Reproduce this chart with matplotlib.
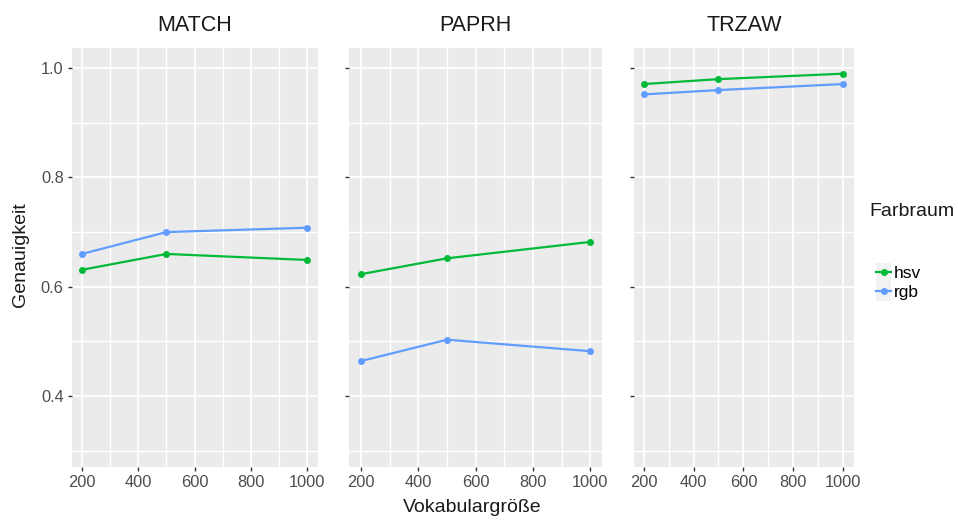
import matplotlib
matplotlib.use("Agg")
import matplotlib.pyplot as plt
from matplotlib.lines import Line2D
from matplotlib.patches import Rectangle
from matplotlib.legend_handler import HandlerLine2D

plt.rcParams['font.family'] = ['Liberation Sans', 'DejaVu Sans']

panels = ["MATCH", "PAPRH", "TRZAW"]
vocab = [200, 500, 1000]
hsv = {
    "MATCH": [0.631, 0.660, 0.649],
    "PAPRH": [0.623, 0.652, 0.682],
    "TRZAW": [0.971, 0.980, 0.990],
}
rgb = {
    "MATCH": [0.660, 0.700, 0.708],
    "PAPRH": [0.464, 0.503, 0.482],
    "TRZAW": [0.952, 0.960, 0.971],
}
series_names = ["hsv", "rgb"]
colors = {"hsv": "#00BA38", "rgb": "#619CFF"}
xticks = [200, 400, 600, 800, 1000]
yticks = [0.4, 0.6, 0.8, 1.0]

W, H = 958, 523
fig = plt.figure(figsize=(W / 100, H / 100), dpi=100)

boxes = [(72, 318), (349, 602), (634, 854)]
xlims = [(164.5, 1039), (158, 1041), (161, 1044)]
top, bottom = 48, 467
grey = "#4D4D4D"
for i, (name, (l, r)) in enumerate(zip(panels, boxes)):
    ax = fig.add_axes([l / W, 1 - bottom / H, (r - l) / W, (bottom - top) / H])
    ax.set_facecolor("#EBEBEB")
    for s in ax.spines.values():
        s.set_visible(False)
    ax.set_xlim(*xlims[i])
    ax.set_ylim(0.27, 1.037)
    ax.set_xticks(xticks)
    ax.set_xticks([300, 500, 700, 900], minor=True)
    ax.set_yticks(yticks)
    ax.set_yticks([0.3, 0.5, 0.7, 0.9], minor=True)
    ax.grid(True, which="major", color="white", lw=1.3)
    ax.grid(True, which="minor", color="white", lw=1.0)
    ax.set_axisbelow(True)
    ax.tick_params(which="minor", length=0)
    ax.tick_params(which="major", length=3, color="#333333", width=1, pad=3,
                   labelsize=11.8, labelcolor=grey)
    ax.set_xticklabels([str(t) for t in xticks])
    if i == 0:
        ax.set_yticklabels([f"{t:.1f}" for t in yticks])
    else:
        ax.set_yticklabels([])
    for sname, data in (("hsv", hsv), ("rgb", rgb)):
        ax.plot(vocab, data[name], color=colors[sname], lw=1.6,
                marker="o", ms=4, solid_capstyle="butt", zorder=3)
    ax.set_title(name, fontsize=15.5, color="#1A1A1A", pad=12)

fig.text(21 / W, 1 - 255 / H, "Genauigkeit", rotation=90, ha="center",
         va="center", fontsize=14, color="#1A1A1A")
fig.text(472 / W, 1 - 507 / H, "Vokabulargröße", ha="center", va="center",
         fontsize=14, color="#1A1A1A")

fig.text(869 / W, 1 - 211 / H, "Farbraum", ha="left", va="center",
         fontsize=14, color="#1A1A1A")


class KeyHandler(HandlerLine2D):
    def create_artists(self, legend, orig_handle, xdescent, ydescent,
                       width, height, fontsize, trans):
        rect = Rectangle((-xdescent, -ydescent - 2.5), width, height + 5,
                         facecolor="#F2F2F2", edgecolor="none",
                         transform=trans)
        arts = super().create_artists(legend, orig_handle, xdescent, ydescent,
                                      width, height, fontsize, trans)
        return [rect] + list(arts)


handles = [Line2D([], [], color=colors[s], lw=1.6, marker="o", ms=4)
           for s in series_names]
leg = fig.legend(handles, series_names, loc="upper left",
                 bbox_to_anchor=(864 / W, 1 - 254 / H),
                 frameon=False, fontsize=12.5, numpoints=1,
                 handlelength=0.85, handletextpad=0.15, labelspacing=0.22,
                 borderpad=0.2,
                 handler_map={Line2D: KeyHandler()})

fig.savefig("out.png", dpi=100)
